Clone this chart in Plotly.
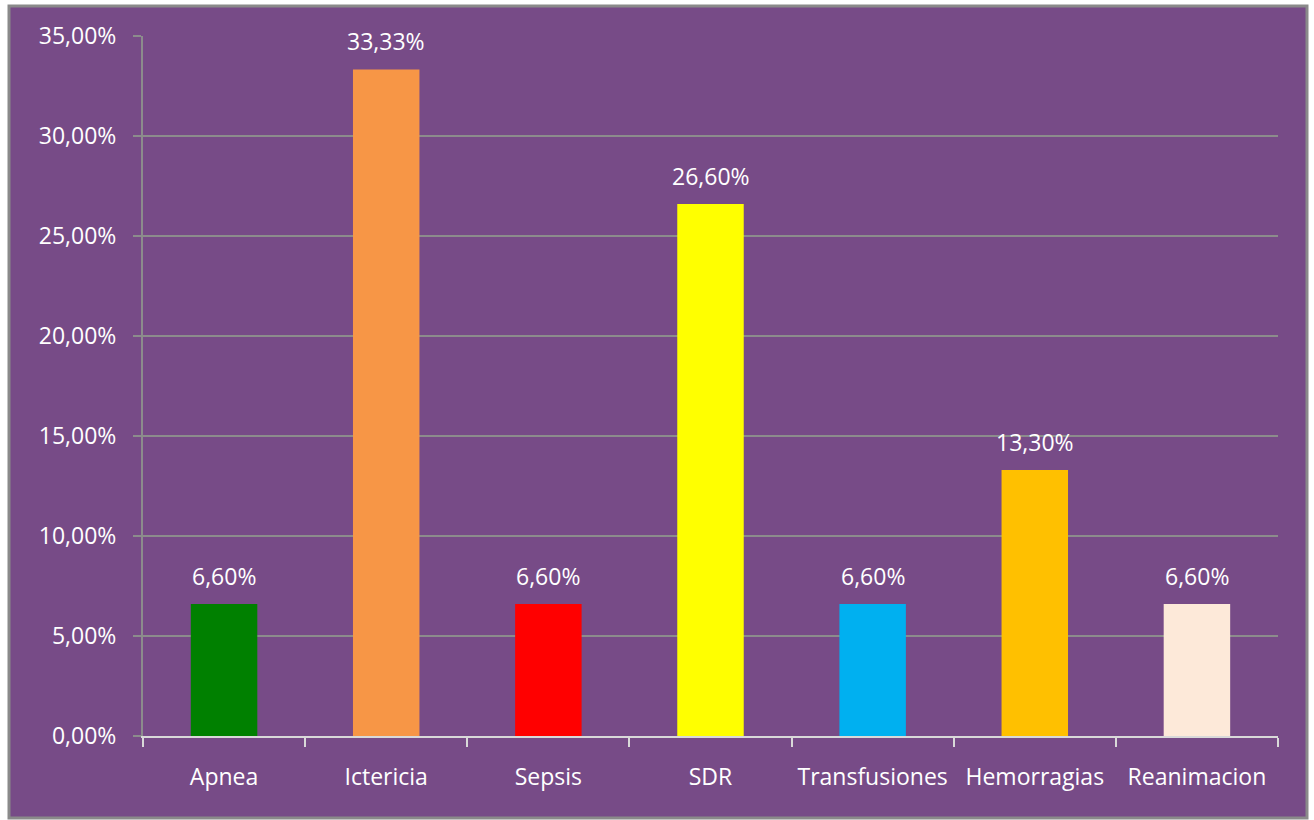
import plotly.graph_objects as go

categories = ["Apnea", "Ictericia", "Sepsis", "SDR", "Transfusiones", "Hemorragias", "Reanimacion"]
values = [6.60, 33.33, 6.60, 26.60, 6.60, 13.30, 6.60]
bar_colors = ["#008000", "#F79646", "#FF0000", "#FFFF00", "#00B0F0", "#FFC000", "#FDE9D9"]
y_ticks = [0, 5, 10, 15, 20, 25, 30, 35]


def pct(v):
    return f"{v:.2f}".replace(".", ",") + "%"


W, H = 1314, 820
ML, MR, MT, MB = 143, 36, 36, 84
pw = W - ML - MR
ph = H - MT - MB


def px_x(x):
    return (x - ML) / pw


def px_y(y):
    return (H - MB - y) / ph


font_family = "'Open Sans', Lato, sans-serif"
fsize = 23

fig = go.Figure()
fig.add_trace(go.Bar(
    x=categories,
    y=values,
    marker=dict(color=bar_colors, line=dict(width=0)),
    width=0.41,
    hoverinfo="x+y",
))

# value labels above each bar
for c, v in zip(categories, values):
    fig.add_annotation(
        x=c, y=v, text=pct(v), showarrow=False,
        xanchor="center", yanchor="bottom", yshift=10,
        font=dict(color="white", size=fsize, family=font_family),
    )

# chart area panel with grey frame
fig.add_shape(
    type="rect", xref="paper", yref="paper",
    x0=px_x(9), x1=px_x(1307), y0=px_y(818), y1=px_y(6),
    fillcolor="#774B87", line=dict(color="#8A8A8A", width=3),
    layer="below",
)

fig.update_layout(
    width=W, height=H,
    margin=dict(l=ML, r=MR, t=MT, b=MB),
    paper_bgcolor="white",
    plot_bgcolor="rgba(0,0,0,0)",
    showlegend=False,
    font=dict(family=font_family, size=fsize, color="white"),
    xaxis=dict(
        type="category",
        tickson="boundaries",
        ticks="outside", ticklen=9, tickwidth=2, tickcolor="#D9D9D9",
        showline=True, linecolor="#D9D9D9", linewidth=2,
        showgrid=False,
        ticklabelstandoff=19,
        tickfont=dict(color="white", size=fsize, family=font_family),
    ),
    yaxis=dict(
        range=[0, 35],
        tickvals=y_ticks,
        ticktext=[pct(t) for t in y_ticks],
        ticks="outside", ticklen=8, tickwidth=2, tickcolor="#8C8C8C",
        showline=True, linecolor="#8C8C8C", linewidth=2,
        showgrid=True, gridcolor="#8C8C8C", gridwidth=2,
        zeroline=False,
        ticklabelstandoff=12,
        tickfont=dict(color="white", size=fsize, family=font_family),
    ),
)

fig.write_html("out.html")
